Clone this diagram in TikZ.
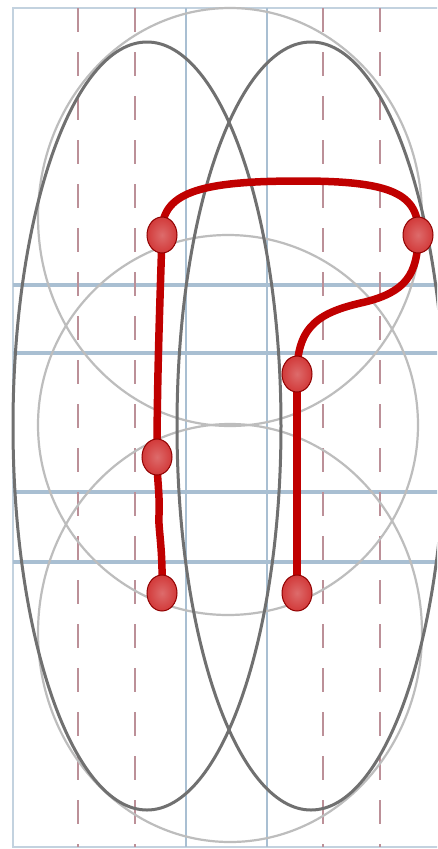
\documentclass[tikz,border=0pt]{standalone}
\usetikzlibrary{shapes.geometric}

\definecolor{gridblue}{HTML}{A9BFD2}
\definecolor{guidepink}{HTML}{BC9098}
\definecolor{darkoval}{HTML}{707070}
\definecolor{lightoval}{HTML}{BDBDBD}
\definecolor{pathred}{HTML}{C00000}
\definecolor{dotred}{HTML}{D23A3A}

\pgfdeclarelayer{front}
\pgfsetlayers{main,front}

\begin{document}
\begin{tikzpicture}[x=1pt,y=-1pt,
  gridline/.style={gridblue,line width=3.5pt},
  frameline/.style={gridblue!70,line width=1.5pt},
  guide/.style={guidepink,line width=1.8pt,dash pattern=on 24pt off 20pt},
  bigoval/.style={darkoval,line width=3pt},
  softoval/.style={lightoval,line width=2.2pt},
  redline/.style={pathred,line width=7.5pt,line cap=round},
  dot/.style={ellipse,inner sep=0pt,minimum width=30pt,minimum height=36pt,
    draw=pathred!75!black,line width=1pt,
    inner color=dotred!75!white,outer color=dotred}]
\useasboundingbox (0,0) rectangle (437,849);
\clip (0,0) rectangle (437,849);
\fill[white] (0,0) rectangle (437,849);

% frame and grid
\draw[frameline] (440,8) -- (13,8) -- (13,847) -- (440,847);
\foreach \gx in {186,267}
  \draw[gridblue,line width=2pt] (\gx,8) -- (\gx,847);
\foreach \gy in {285,353,492,562}
  \draw[gridline] (13,\gy) -- (440,\gy);
\foreach \gx in {78,135,323,380}
  \draw[guide] (\gx,8) -- (\gx,847);

% light circles
\draw[softoval] (230,217) ellipse [x radius=192pt,y radius=209pt];
\draw[softoval] (228,425) ellipse [x radius=190pt,y radius=190pt];
\draw[softoval] (230,633) ellipse [x radius=192pt,y radius=209pt];

% two big ovals
\draw[bigoval] (147,426) ellipse [x radius=134pt,y radius=384pt];
\draw[bigoval] (311,426) ellipse [x radius=134pt,y radius=384pt];

% dots
\begin{pgfonlayer}{front}
\node[dot] (d1) at (162,235) {};
\node[dot] (d2) at (418,235) {};
\node[dot] (d3) at (297,374) {};
\node[dot] (d4) at (157,457) {};
\node[dot] (d5) at (162,593) {};
\node[dot] (d6) at (297,593) {};
\end{pgfonlayer}

% red stroke
\draw[redline] (d5.center) .. controls (163,545) and (158,530) .. (159,515)
  .. controls (160,495) and (157,480) .. (d4.center);
\draw[redline] (d4.center) .. controls (157,380) and (160,300) .. (d1.center);
\draw[redline] (d1.center) .. controls (160,192) and (200,181) .. (300,181)
  .. controls (390,181) and (420,193) .. (d2.center);
\draw[redline] (d2.center) .. controls (418,275) and (405,292) .. (365,302)
  .. controls (320,312) and (297,325) .. (d3.center);
\draw[redline] (d3.center) -- (d6.center);
\end{tikzpicture}
\end{document}
